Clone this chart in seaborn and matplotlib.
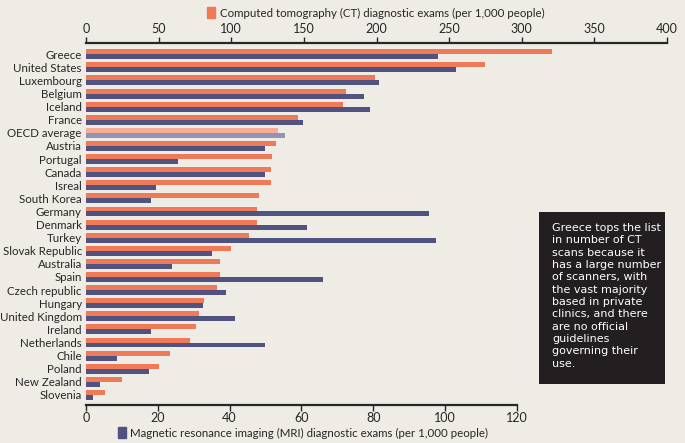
import matplotlib
matplotlib.use('Agg')
import matplotlib.pyplot as plt
from matplotlib.patches import Patch, Rectangle
import seaborn as sns
import pandas as pd

# data
countries = ['Greece', 'United States', 'Luxembourg', 'Belgium', 'Iceland', 'France',
             'OECD average', 'Austria', 'Portugal', 'Canada', 'Isreal', 'South Korea',
             'Germany', 'Denmark', 'Turkey', 'Slovak Republic', 'Australia', 'Spain',
             'Czech republic', 'Hungary', 'United Kingdom', 'Ireland', 'Netherlands',
             'Chile', 'Poland', 'New Zealand', 'Slovenia']
ct_exams = [321, 274.5, 199, 179, 177, 146, 132, 131, 128, 127.5, 127.5, 119,
            117.5, 117.5, 112.5, 100, 92, 92, 90, 81, 78, 75.5, 71.5, 58, 50, 25, 13]
mri_exams = [98, 103, 81.5, 77.5, 79, 60.5, 55.5, 50, 25.5, 50, 19.5, 18,
             95.5, 61.5, 97.5, 35, 24, 66, 39, 32.5, 41.5, 18, 50, 8.5, 17.5, 4, 2]

ct_label = 'Computed tomography (CT) diagnostic exams (per 1,000 people)'
mri_label = 'Magnetic resonance imaging (MRI) diagnostic exams (per 1,000 people)'
note = ('Greece tops the list\nin number of CT\nscans because it\nhas a large number\n'
        'of scanners, with\nthe vast majority\nbased in private\nclinics, and there\n'
        'are no official\nguidelines\ngoverning their\nuse.')

BG = '#efece5'
ORANGE = '#ef7a58'
BLUE = '#50527f'
ORANGE_LT = '#f6ad97'
BLUE_LT = '#9293b6'

sns.set_style('white')
plt.rcParams['font.family'] = ['Lato', 'DejaVu Sans']
plt.rcParams['font.size'] = 8.3

df_ct = pd.DataFrame({'country': countries, 'value': ct_exams, 'kind': 'CT'})
df_mri = pd.DataFrame({'country': countries, 'value': mri_exams, 'kind': 'MRI'})
kinds = ['CT', 'MRI']

fig = plt.figure(figsize=(6.85, 4.43), dpi=100, facecolor=BG)
ax = fig.add_axes([86 / 685, 1 - 405 / 443, 581 / 685, 362 / 443])
ax.set_facecolor('none')
ax2 = ax.twiny()

sns.barplot(data=df_ct, y='country', x='value', hue='kind', hue_order=kinds,
            palette=[ORANGE, BLUE], dodge=True, width=0.76, order=countries,
            legend=False, ax=ax, saturation=1)
sns.barplot(data=df_mri, y='country', x='value', hue='kind', hue_order=kinds,
            palette=[ORANGE, BLUE], dodge=True, width=0.76, order=countries,
            legend=False, ax=ax2, saturation=1)

# lighter colours for the OECD average row
oecd = countries.index('OECD average')
for a, c in ((ax, ORANGE_LT), (ax2, BLUE_LT)):
    for p in a.patches:
        if abs(p.get_y() + p.get_height() / 2 - oecd) < 0.5:
            p.set_facecolor(c)
        p.set_edgecolor('none')

for a in (ax, ax2):
    a.set_ylim(26.77, -0.86)
    a.set_xlabel('')
    a.set_ylabel('')
    for s in a.spines.values():
        s.set_visible(False)

ax.set_xlim(0, 400)
ax.set_xticks(range(0, 401, 50))
ax.xaxis.tick_top()
ax.spines['top'].set_visible(True)
ax.spines['top'].set_linewidth(1.6)
ax.tick_params(axis='x', direction='out', length=4, width=1, pad=2, labelsize=9)
ax.tick_params(axis='y', length=0, pad=3, labelsize=8.3)

ax2.set_xlim(0, 581 / 3.59)
ax2.set_xticks(range(0, 121, 20))
ax2.xaxis.tick_bottom()
ax2.spines['bottom'].set_visible(True)
ax2.spines['bottom'].set_linewidth(1.6)
ax2.spines['bottom'].set_bounds(0, 120)
ax2.tick_params(axis='x', direction='out', length=4, width=1, pad=1, labelsize=9)

fig.legend(handles=[Patch(color=ORANGE, label=ct_label)], loc='center',
           bbox_to_anchor=(376 / 685, 1 - 13 / 443), frameon=False, fontsize=8.3,
           handlelength=0.7, handleheight=1.1, handletextpad=0.4)
fig.legend(handles=[Patch(color=BLUE, label=mri_label)], loc='center',
           bbox_to_anchor=(303 / 685, 1 - 433 / 443), frameon=False, fontsize=8.3,
           handlelength=0.7, handleheight=1.1, handletextpad=0.4)

fig.patches.append(Rectangle((539 / 685, 1 - 384 / 443), 126 / 685, 172 / 443,
                             transform=fig.transFigure, facecolor='#231f20',
                             edgecolor='none'))
fig.text(552 / 685, 1 - 223 / 443, note, color='white', fontsize=8, va='top',
         ha='left', linespacing=1.29, family=['DejaVu Sans'])

fig.savefig('out.png', dpi=100, facecolor=BG)
